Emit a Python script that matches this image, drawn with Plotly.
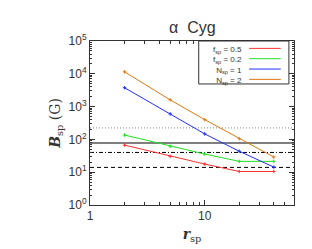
import plotly.graph_objects as go

r_sp = [2, 5, 10, 20, 40]
b_f05 = [67, 30.5, 17.7, 10.5, 10.5]
b_f02 = [136, 62, 35.7, 21.4, 21.4]
b_n1 = [3760, 600, 147, 43.5, 14.3]
b_n2 = [11500, 1600, 400, 105, 29]

hlines = [224, 78, 40, 14]
hline_styles = [("#888888", "1px,2px", 1), ("#555555", "solid", 1.5),
                ("#000000", "4px,2px,1px,2px", 1), ("#000000", "4px,3px", 1)]

series = [
    ("f<sub>sp</sub> = 0.5", b_f05, "#ff3030"),
    ("f<sub>sp</sub> = 0.2", b_f02, "#20e020"),
    ("N<sub>sp</sub> = 1", b_n1, "#2030ff"),
    ("N<sub>sp</sub> = 2", b_n2, "#e07810"),
]

ytick_vals = [1, 10, 100, 1000, 10000, 100000]
ytick_text = ["10<sup>0</sup>", "10<sup>1</sup>", "10<sup>2</sup>", "10<sup>3</sup>", "10<sup>4</sup>", "10<sup>5</sup>"]
xtick_vals = [1, 10]
xtick_text = ["1", "10"]

fig = go.Figure()
for name, vals, col in series:
    fig.add_trace(go.Scatter(x=r_sp, y=vals, mode="lines+markers", name=name,
                             line=dict(color=col, width=1),
                             marker=dict(symbol="cross-thin", size=2.5, color=col, line=dict(color=col, width=1)),
                             showlegend=False))

shapes = []
for yv, (c, d, w) in zip(hlines, hline_styles):
    shapes.append(dict(type="line", xref="paper", yref="y", x0=0, x1=1, y0=yv, y1=yv,
                       line=dict(color=c, dash=d, width=w), layer="below"))

# legend box (drawn by hand so text sits left of the line sample, as in the reference)
lx0, lx1, ly0, ly1 = 0.533, 0.975, 0.738, 1.0
shapes.append(dict(type="rect", xref="paper", yref="paper", x0=lx0, x1=lx1, y0=ly0, y1=ly1,
                   line=dict(color="#333333", width=1), fillcolor="white"))
rows = [0.955, 0.892, 0.829, 0.766]
for (name, vals, col), ry in zip(series, rows):
    shapes.append(dict(type="line", xref="paper", yref="paper", x0=0.78, x1=0.935, y0=ry, y1=ry,
                       line=dict(color=col, width=1)))

annotations = [dict(text="<br>".join(s[0] for s in series), xref="paper", yref="paper",
                    x=0.755, y=0.99, xanchor="right", yanchor="top", align="right",
                    showarrow=False, font=dict(size=8, color="#333333"))]

annotations.append(dict(text="α  Cyg", xref="paper", yref="paper", x=0.5, y=1.0, yshift=3,
                        xanchor="center", yanchor="bottom", showarrow=False,
                        font=dict(size=16, color="#333333")))

fig.update_layout(
    width=312, height=249,
    margin=dict(l=82, r=26, t=33, b=52),
    paper_bgcolor="white", plot_bgcolor="white",
    font=dict(family="Liberation Sans, Arial, sans-serif", color="#333333", size=12),
    shapes=shapes, annotations=annotations,
    xaxis=dict(type="log", range=[0, 1.778], tickvals=xtick_vals, ticktext=xtick_text,
               ticks="inside", ticklen=5, tickcolor="#333333", showline=True, linecolor="#333333",
               linewidth=1, mirror="ticks", showgrid=False, zeroline=False,
               minor=dict(ticks="inside", ticklen=3, tickcolor="#333333", showgrid=False,
                          tickvals=[2, 3, 4, 5, 6, 7, 8, 9, 20, 30, 40, 50]),
               title=dict(text="<b><i>r</i></b><sub>sp</sub>", font=dict(size=14, family="DejaVu Serif, serif"), standoff=6)),
    yaxis=dict(type="log", range=[0, 5], tickvals=ytick_vals, ticktext=ytick_text,
               ticks="inside", ticklen=5, tickcolor="#333333", showline=True, linecolor="#333333",
               linewidth=1, mirror="ticks", showgrid=False, zeroline=False,
               minor=dict(ticks="inside", ticklen=2, tickcolor="#333333", showgrid=False,
                          tickvals=[m * 10 ** e for e in range(5) for m in range(2, 10)]),
               title=dict(text="<b><i>B</i></b><sub>sp</sub> (G)", font=dict(size=14, family="DejaVu Serif, serif"), standoff=4)),
)

fig.write_html("out.html")
